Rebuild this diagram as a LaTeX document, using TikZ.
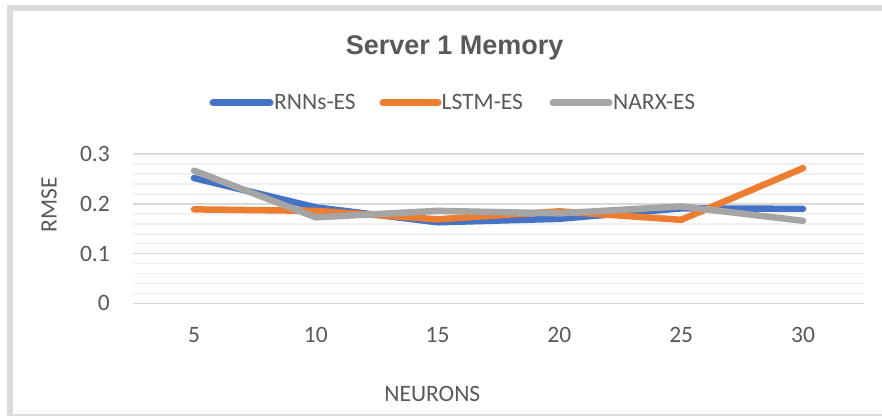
\documentclass[tikz,border=0pt]{standalone}
\usepackage{fontspec}
\setmainfont{Carlito}
\newfontfamily\titlefont{Liberation Sans}
\usepackage{xcolor}
\definecolor{txtgray}{HTML}{595959}
\definecolor{framegray}{HTML}{DCDCDC}
\definecolor{majgray}{HTML}{D9D9D9}
\definecolor{mingray}{HTML}{F0F0F0}
\definecolor{rnnblue}{HTML}{4472C4}
\definecolor{lstmorange}{HTML}{ED7D31}
\definecolor{narxgray}{HTML}{A5A5A5}
\usetikzlibrary{positioning}
\tikzset{lbl/.style={inner sep=0pt,text=txtgray,font=\fontsize{23.5}{28}\selectfont},
         series/.style={line width=6.5pt,line cap=round,line join=round},
         key/.style={line width=7pt,line cap=round}}

\begin{document}
\begin{tikzpicture}[x=1pt,y=-1pt]
    \useasboundingbox (0,0) rectangle (882,417);
    % frame
    \fill[framegray] (6.5,5) rectangle (12.5,416);
    \fill[framegray] (6.5,5) rectangle (882,11);
    \fill[framegray] (6.5,413.5) rectangle (882,416);

    % title and legend
    \node[lbl,anchor=base,font=\titlefont\bfseries\fontsize{27}{32}\selectfont] (title) at (454.7,55) {Server 1 Memory};
    \coordinate (k1a) at (213,103);
    \coordinate (k1b) at (270,103);
    \coordinate (k2a) at (383,103);
    \coordinate (k2b) at (438,103);
    \coordinate (k3a) at (553,103);
    \coordinate (k3b) at (609,103);
    \draw[key,rnnblue] (k1a) -- (k1b);
    \draw[key,lstmorange] (k2a) -- (k2b);
    \draw[key,narxgray] (k3a) -- (k3b);
    \node[lbl,anchor=base west] (k1) at (274,109.5) {RNNs-ES};
    \node[lbl,anchor=base west] (k2) at (441.5,109.5) {LSTM-ES};
    \node[lbl,anchor=base west] (k3) at (613,109.5) {NARX-ES};

    % axis titles and x labels
    \node[lbl,rotate=90,anchor=base] (ytitle) at (56.7,205) {RMSE};
    \node[lbl,anchor=base] (xtitle) at (432.3,401.7) {NEURONS};
    \foreach \lab [count=\i from 0] in {5,10,15,20,25,30}
        \node[lbl,anchor=base] (x\i) at (194+121.8*\i,342.3) {\lab};

    \begin{scope}[shift={(0,303.3)},y=497pt]
        % grid
        \foreach \k in {1,...,15}
            \draw[mingray,line width=1.6pt] (133,0.02*\k) -- (864,0.02*\k);
        \foreach \v in {0,0.1,0.2,0.3}
        {
            \draw[majgray,line width=1.6pt] (133,\v) -- (864,\v);
            \node[lbl,anchor=east] (y\v) at (110,\v) {\v};
        }

        % data points
        \coordinate (r1) at (194,0.252);
        \coordinate (r2) at (315.8,0.193);
        \coordinate (r3) at (437.6,0.163);
        \coordinate (r4) at (559.4,0.170);
        \coordinate (r5) at (681.2,0.191);
        \coordinate (r6) at (803,0.190);
        \coordinate (l1) at (194,0.189);
        \coordinate (l2) at (315.8,0.186);
        \coordinate (l3) at (437.6,0.169);
        \coordinate (l4) at (559.4,0.185);
        \coordinate (l5) at (681.2,0.168);
        \coordinate (l6) at (803,0.272);
        \coordinate (n1) at (194,0.267);
        \coordinate (n2) at (315.8,0.173);
        \coordinate (n3) at (437.6,0.186);
        \coordinate (n4) at (559.4,0.181);
        \coordinate (n5) at (681.2,0.195);
        \coordinate (n6) at (803,0.166);

        \draw[series,rnnblue] (r1) -- (r2) -- (r3) -- (r4) -- (r5) -- (r6);
        \draw[series,lstmorange] (l1) -- (l2) -- (l3) -- (l4) -- (l5) -- (l6);
        \draw[series,narxgray] (n1) -- (n2) -- (n3) -- (n4) -- (n5) -- (n6);
    \end{scope}
\end{tikzpicture}
\end{document}
